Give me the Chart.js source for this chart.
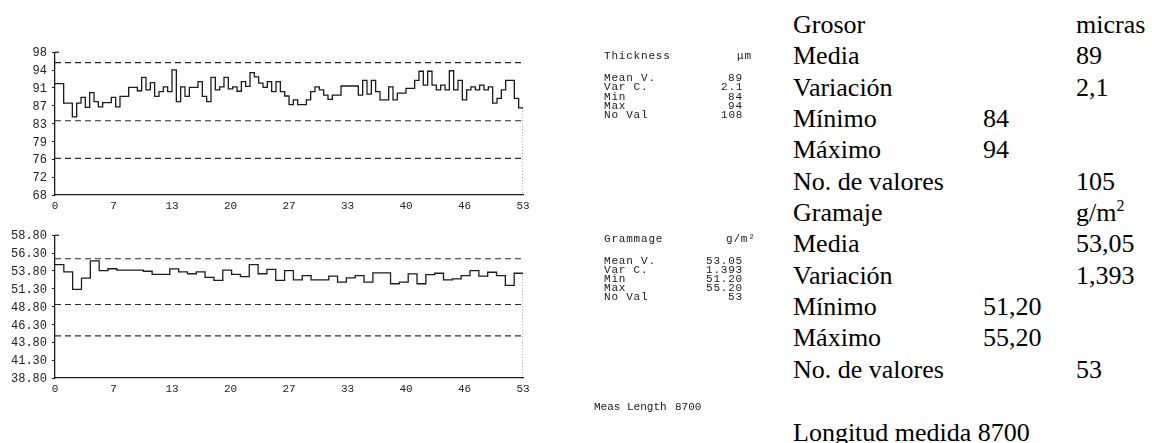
<!DOCTYPE html>
<html>
<head>
<meta charset="utf-8">
<script src="https://cdn.jsdelivr.net/npm/chart.js@4/dist/chart.umd.min.js"></script>
<style>
  html, body { margin: 0; padding: 0; background: #fff; width: 1152px; height: 443px; overflow: hidden; }
  canvas { position: absolute; }
  .mono { position: absolute; font-family: "Liberation Mono", "DejaVu Sans Mono", monospace; font-size: 11px; letter-spacing: 0.8px; color: #1a1a1a; white-space: pre; line-height: 11px; will-change: transform; }
  .mono.tight { letter-spacing: 0; }
  .serif { position: absolute; font-family: "Liberation Serif", "Times New Roman", serif; font-size: 26px; color: #000; white-space: nowrap; line-height: 31.36px; }
  .serif sup { font-size: 16px; vertical-align: 0; position: relative; top: -10px; }
</style>
</head>
<body>
<canvas id="thick" width="545" height="180" style="left:0;top:40px"></canvas>
<canvas id="gram" width="545" height="180" style="left:0;top:223px"></canvas>
<div id="panels"></div>

<script>
// ---- measurement data ----
const xTickLabels = ['0', '7', '13', '20', '27', '33', '40', '46', '53'];
const xSpan = 53;

// Thickness profile, 108 readings (µm)
const thickness = [
  91.4, 91.4, 87.3, 87.3, 84.4, 87.3, 88.5, 86.4, 89.5, 87.6,
  86.5, 87.4, 87.4, 88.5, 86.5, 88.7, 88.7, 90.6, 90.6, 89.9,
  92.7, 90.1, 91.6, 88.7, 89.7, 90.7, 89.7, 94.3, 87.6, 90.7,
  88.7, 90.6, 90.6, 91.8, 88.7, 87.6, 92.7, 90.1, 90.7, 92.7,
  90.3, 90.7, 89.8, 91.8, 90.8, 93.7, 92.8, 91.5, 90.6, 91.8,
  89.7, 91.8, 89.7, 88.8, 87.0, 88.0, 87.0, 87.0, 88.0, 89.7,
  90.7, 90.1, 89.0, 88.1, 89.0, 89.0, 90.9, 90.9, 90.9, 90.9,
  89.0, 92.1, 89.2, 92.1, 89.7, 88.0, 88.0, 90.7, 88.0, 89.4,
  89.4, 90.4, 90.4, 92.1, 94.0, 91.1, 94.0, 91.1, 90.1, 91.1,
  90.1, 94.1, 90.1, 92.1, 88.0, 90.1, 90.7, 90.1, 91.1, 90.1,
  90.7, 87.3, 88.3, 90.1, 92.1, 92.1, 88.3, 86.3
];
const thicknessLimits = [95.8, 83.6, 75.7];
const thicknessAxis = [68, 98];
const thicknessTickLabels = ['68', '72', '76', '79', '83', '87', '91', '94', '98'];

// Grammage profile, 53 readings (g/m²)
const grammage = [
  54.67, 53.66, 51.20, 52.80, 55.20, 53.84, 54.10, 53.90, 53.90, 53.90,
  53.75, 53.30, 53.30, 54.07, 53.66, 53.40, 53.66, 52.90, 52.46, 53.90,
  53.30, 53.00, 54.67, 53.40, 54.00, 52.46, 53.85, 52.55, 53.15, 52.55,
  52.55, 53.06, 52.23, 52.83, 53.15, 52.23, 53.52, 53.52, 52.00, 52.23,
  53.38, 52.00, 53.29, 53.47, 52.55, 52.69, 53.15, 53.84, 53.06, 53.61,
  53.15, 51.77, 53.47
];
const grammageLimits = [55.5, 49.1, 44.7];
const grammageAxis = [38.8, 58.8];
const grammageTickLabels = ['38.80', '41.30', '43.80', '46.30', '48.80', '51.30', '53.80', '56.30', '58.80'];

// Summary tables
const statNames = ['Mean V.', 'Var C.', 'Min', 'Max', 'No Val'];
const thicknessStats = ['89', '2.1', '84', '94', '108'];
const grammageStats = ['53.05', '1.393', '51.20', '55.20', '53'];
const measLength = '8700';

const esLabels = ['Grosor', 'Media', 'Variación', 'Mínimo', 'Máximo', 'No. de valores',
                  'Gramaje', 'Media', 'Variación', 'Mínimo', 'Máximo', 'No. de valores'];
const esMiddle = ['', '', '', '84', '94', '', '', '', '', '51,20', '55,20', ''];
const esRight  = ['micras', '89', '2,1', '', '', '105', 'g/m²', '53,05', '1,393', '', '', '53'];
const esFooter = 'Longitud medida 8700';

// ---- charts ----
const INK = '#1c1c1c';
const PLOT_RIGHT = 523;

// small horizontal stub at the top of the value axis
const axisCap = {
  id: 'axisCap',
  afterDraw(chart) {
    const { ctx, chartArea } = chart;
    ctx.save();
    ctx.strokeStyle = INK;
    ctx.lineWidth = 1.2;
    ctx.beginPath();
    ctx.moveTo(chartArea.left, chartArea.top);
    ctx.lineTo(chartArea.left + 4, chartArea.top);
    ctx.stroke();
    ctx.restore();
  }
};

function profileChart(canvasId, series, limits, axis, tickLabels) {
  const [yMin, yMax] = axis;
  const step = xSpan / series.length;
  const pts = series.map((v, i) => ({ x: i * step, y: v }));
  pts.push({ x: xSpan, y: series[series.length - 1] });

  const datasets = [
    { data: pts, stepped: true, borderColor: INK, borderWidth: 1.3 },
    ...limits.map(L => ({
      data: [{ x: 0, y: L }, { x: xSpan, y: L }],
      borderColor: '#2a2a2a', borderWidth: 1.1, borderDash: [6, 4]
    })),
    { data: [{ x: xSpan, y: series[series.length - 1] }, { x: xSpan, y: yMin }],
      borderColor: '#555', borderWidth: 1, borderDash: [1, 2] }
  ];

  const canvas = document.getElementById(canvasId);
  return new Chart(canvas, {
    type: 'line',
    data: { datasets },
    plugins: [axisCap],
    options: {
      responsive: false,
      animation: false,
      events: [],
      layout: { padding: { top: 10, right: canvas.width - PLOT_RIGHT, left: 0, bottom: 0 } },
      elements: { point: { radius: 0 }, line: { tension: 0, fill: false } },
      plugins: { legend: { display: false }, tooltip: { enabled: false } },
      scales: {
        x: {
          type: 'linear', min: 0, max: xSpan,
          afterBuildTicks: s => { s.ticks = xTickLabels.map((_, k) => ({ value: k * xSpan / (xTickLabels.length - 1) })); },
          afterFit: s => { s.height = 25; },
          ticks: { autoSkip: false, maxRotation: 0, padding: 4, color: '#222',
                   font: { family: 'Liberation Mono', size: 11 },
                   callback: (v, i) => xTickLabels[i] },
          grid: { display: false, drawTicks: false },
          border: { display: true, color: INK, width: 1.3 }
        },
        y: {
          type: 'linear', min: yMin, max: yMax,
          afterBuildTicks: s => { s.ticks = tickLabels.map((_, k) => ({ value: yMin + k * (yMax - yMin) / (tickLabels.length - 1) })); },
          afterFit: s => { s.width = 55; },
          ticks: { autoSkip: false, padding: 5, color: '#222', labelOffset: 1,
                   font: { family: 'Liberation Mono', size: 12 },
                   callback: (v, i) => tickLabels[i] },
          grid: { drawOnChartArea: false, drawTicks: true, tickLength: 3, color: INK, lineWidth: 1 },
          border: { display: true, color: INK, width: 1.3 }
        }
      }
    }
  });
}

profileChart('thick', thickness, thicknessLimits, thicknessAxis, thicknessTickLabels);
profileChart('gram', grammage, grammageLimits, grammageAxis, grammageTickLabels);

// ---- text panels ----
const panels = document.getElementById('panels');
function put(cls, html, left, top, right) {
  const d = document.createElement('div');
  d.className = cls;
  d.innerHTML = html;
  d.style.top = top + 'px';
  if (right !== undefined) { d.style.right = (1152 - right) + 'px'; d.style.textAlign = 'right'; }
  else d.style.left = left + 'px';
  panels.appendChild(d);
}

function statBlock(title, unit, values, top, rowGap) {
  put('mono', title, 604, top);
  put('mono', unit, 0, top, unit.length > 2 ? 756 : 752);
  statNames.forEach((n, k) => {
    put('mono', n, 604, top + 22 + k * rowGap);
    put('mono', values[k], 0, top + 22 + k * rowGap, 743);
  });
}
statBlock('Thickness', '\u03bcm', thicknessStats, 51, 9.3);
statBlock('Grammage', 'g/m\u00b2', grammageStats, 234, 9.1);
put('mono tight', 'Meas Length', 594, 402);
put('mono tight', measLength, 0, 402, 701);

const rowTop = k => 8.85 + 31.36 * k;
const withSup = s => s.replace('\u00b2', '<sup>2</sup>');
esLabels.forEach((t, k) => {
  put('serif', t, 793, rowTop(k));
  if (esMiddle[k]) put('serif', esMiddle[k], 983, rowTop(k));
  if (esRight[k]) put('serif', withSup(esRight[k]), 1076, rowTop(k));
});
put('serif', esFooter, 793, rowTop(13));
</script>
</body>
</html>
